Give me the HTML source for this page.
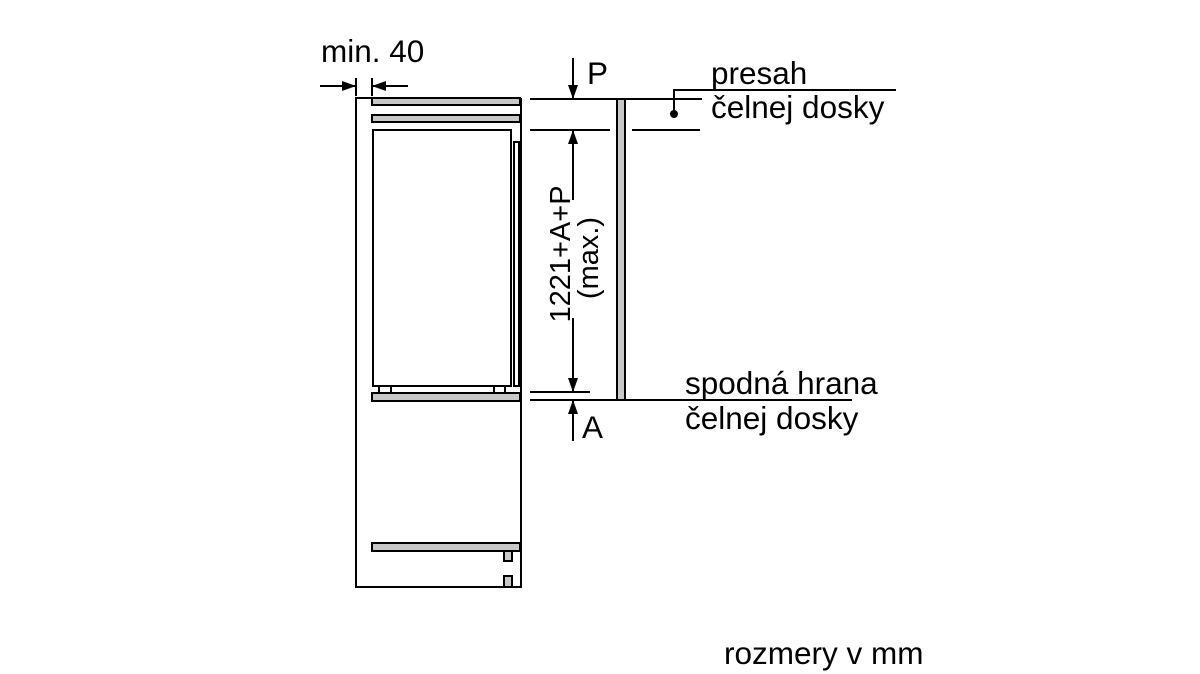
<!DOCTYPE html>
<html><head><meta charset="utf-8"><style>
html,body{margin:0;padding:0;background:#fff;}
svg{display:block;}
text{font-family:"Liberation Sans",Arial,sans-serif;fill:#000;}
</style></head><body>
<svg width="1200" height="674" viewBox="0 0 1200 674" xmlns="http://www.w3.org/2000/svg">
<defs>
<marker id="ah" markerWidth="14" markerHeight="12" refX="13" refY="5" orient="auto" markerUnits="userSpaceOnUse"><path d="M0,0 L14,5 L0,10 Z" fill="#000"/></marker>
</defs>
<g stroke="#000" stroke-width="2" fill="none">
<polyline points="372,98 356,98 356,587 521,587 521,98"/>
<rect x="372" y="98" width="148" height="7" fill="#c8c8c8"/>
<rect x="372" y="115" width="148" height="7" fill="#c8c8c8"/>
<rect x="373" y="130" width="138" height="256" fill="#fff"/>
<rect x="514" y="142" width="5" height="244" fill="#fff"/>
<rect x="379" y="386" width="12" height="7"/>
<rect x="494" y="386" width="11" height="7"/>
<rect x="372" y="393" width="148" height="8" fill="#c8c8c8"/>
<rect x="372" y="543" width="148" height="8" fill="#c8c8c8"/>
<rect x="504" y="551" width="8" height="10" fill="#c8c8c8"/>
<rect x="504" y="576" width="8" height="11" fill="#c8c8c8"/>
<line x1="356" y1="78" x2="356" y2="96"/>
<line x1="372" y1="78" x2="372" y2="96"/>
<line x1="320" y1="86" x2="355" y2="86" marker-end="url(#ah)"/>
<line x1="408" y1="86" x2="373" y2="86" marker-end="url(#ah)"/>
<line x1="530" y1="99" x2="702" y2="99"/>
<line x1="530" y1="130" x2="610" y2="130"/>
<line x1="632" y1="130" x2="700" y2="130"/>
<line x1="530" y1="392" x2="590" y2="392"/>
<line x1="530" y1="400" x2="852" y2="400"/>
<rect x="617" y="99" width="8" height="301" fill="#c8c8c8"/>
<line x1="573" y1="58" x2="573" y2="98" marker-end="url(#ah)"/>
<line x1="573" y1="200" x2="573" y2="131" marker-end="url(#ah)"/>
<line x1="573" y1="318" x2="573" y2="391" marker-end="url(#ah)"/>
<line x1="573" y1="441" x2="573" y2="401" marker-end="url(#ah)"/>
<polyline points="896,90 674,90 674,114"/>
</g>
<circle cx="674" cy="114" r="4" fill="#000"/>
<text x="321" y="62" font-size="31.5">min. 40</text>
<text x="587" y="84" font-size="31.5">P</text>
<text x="582" y="438" font-size="31.5">A</text>
<text x="711" y="84" font-size="31.5">presah</text>
<text x="711" y="118" font-size="31.5">čelnej dosky</text>
<text x="685" y="394" font-size="31.5">spodná hrana</text>
<text x="685" y="429" font-size="31.5">čelnej dosky</text>
<text x="724" y="664" font-size="31.5">rozmery v mm</text>
<text transform="translate(570,254) rotate(-90)" font-size="29" text-anchor="middle">1221+A+P</text>
<text transform="translate(598,258) rotate(-90)" font-size="29" text-anchor="middle">(max.)</text>
</svg>
</body></html>
